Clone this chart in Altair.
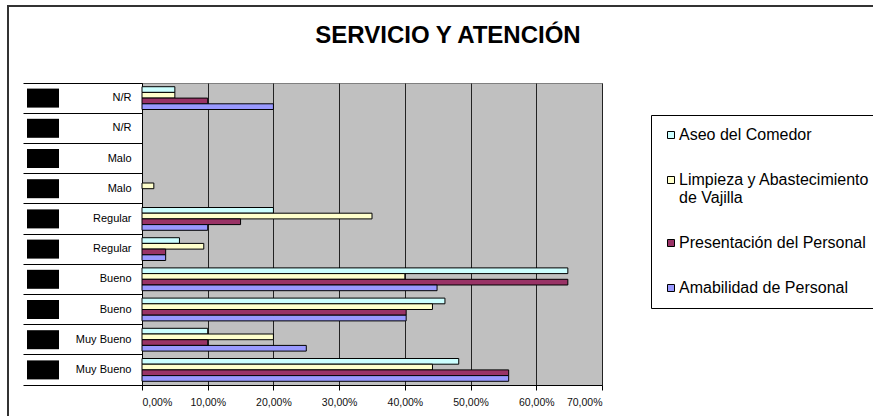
import altair as alt
import pandas as pd

# Row labels, top to bottom (two survey rounds per rating)
categories = ["N/R", "N/R", "Malo", "Malo", "Regular", "Regular",
              "Bueno", "Bueno", "Muy Bueno", "Muy Bueno"]

series = ["Aseo del Comedor",
          "Limpieza y Abastecimiento de Vajilla",
          "Presentación del Personal",
          "Amabilidad de Personal"]
colors = ["#CCFFFF", "#FFFFCC", "#993366", "#9999FF"]

# Percent of answers per row, same order as categories
aseo = [5.0, 0.0, 0.0, 0.0, 20.0, 5.7, 64.8, 46.1, 10.0, 48.2]
limpieza = [5.0, 0.0, 0.0, 1.8, 35.0, 9.4, 40.0, 44.2, 20.0, 44.2]
presentacion = [10.0, 0.0, 0.0, 0.0, 15.0, 3.6, 64.8, 40.2, 10.0, 55.8]
amabilidad = [20.0, 0.0, 0.0, 0.0, 10.0, 3.6, 44.9, 40.2, 25.0, 55.8]

x_ticks = [0, 10, 20, 30, 40, 50, 60, 70]

FONT = "Liberation Sans"

row_keys = [f"{i:02d}|{c}" for i, c in enumerate(categories)]
rows = pd.DataFrame({"fila": row_keys})

records = []
for name, vals in zip(series, [aseo, limpieza, presentacion, amabilidad]):
    for key, v in zip(row_keys, vals):
        records.append({"fila": key, "serie": name, "valor": v})
df = pd.DataFrame(records)

y_enc = alt.Y(
    "fila:N",
    title=None,
    scale=alt.Scale(domain=row_keys, paddingInner=0, paddingOuter=0),
    axis=alt.Axis(
        labelExpr="split(datum.label, '|')[1]",
        labelFont=FONT, labelFontSize=11, labelColor="black",
        labelPadding=-108,
        domainColor="black", domainWidth=1,
        tickColor="black", tickSize=119, tickWidth=1,
        bandPosition=1, tickExtra=True, grid=False,
    ),
)

x_enc = alt.X(
    "valor:Q",
    title=None,
    scale=alt.Scale(domain=[0, 70], nice=False, zero=True),
    axis=alt.Axis(
        values=x_ticks,
        labelExpr="replace(format(datum.value, '.2f'), '.', ',') + '%'",
        labelFont=FONT, labelFontSize=10.5, labelColor="#111",
        labelPadding=7,
        domainColor="black", tickColor="black", tickSize=5,
        grid=True, gridColor="#222", gridWidth=1, gridOpacity=1,
    ),
)

# Outer chart frame
frame = alt.Chart(rows).mark_rect(fill=None, stroke="#333", strokeWidth=2).encode(
    x=alt.value(-134), x2=alt.value(760),
    y=alt.value(-77), y2=alt.value(360),
)

bars = alt.Chart(df).transform_filter("datum.valor > 0").mark_bar(
    stroke="black", strokeWidth=1
).encode(
    x=x_enc,
    y=y_enc,
    yOffset=alt.YOffset(
        "serie:N",
        scale=alt.Scale(domain=series, paddingInner=0, paddingOuter=0.65),
    ),
    color=alt.Color(
        "serie:N",
        scale=alt.Scale(domain=series, range=colors),
        legend=alt.Legend(
            title=None, orient="none", legendX=509, legendY=32,
            direction="vertical",
            symbolType="square", symbolSize=49,
            symbolStrokeColor="black", symbolStrokeWidth=1,
            labelFont=FONT, labelFontSize=16, labelColor="black",
            labelLimit=400, labelOffset=0,
            labelExpr="datum.label == 'Limpieza y Abastecimiento de Vajilla' ? ['Limpieza y Abastecimiento', 'de Vajilla'] : datum.label",
            rowPadding=29, padding=12,
            strokeColor="black", fillColor="white",
        ),
    ),
)

# Blacked-out first-level row labels
blobs = alt.Chart(rows).mark_bar(color="black", size=19).encode(
    y=alt.Y("fila:N"),
    x=alt.value(-115), x2=alt.value(-83),
)

chart = alt.layer(frame, bars, blobs).properties(
    width=460, height=302,
    background="white",
    padding={"left": 142, "top": 83, "right": 271, "bottom": 31},
    autosize=alt.AutoSizeParams(type="none"),
    title=alt.TitleParams(
        "SERVICIO Y ATENCIÓN", font=FONT, fontSize=24, fontWeight="bold",
        color="black", anchor="middle", frame="group", dx=76, offset=-62,
        baseline="alphabetic",
    ),
).configure_view(fill="#C0C0C0", stroke="#808080")

chart.save("out.html", embed_options={"renderer": "svg", "actions": False})
